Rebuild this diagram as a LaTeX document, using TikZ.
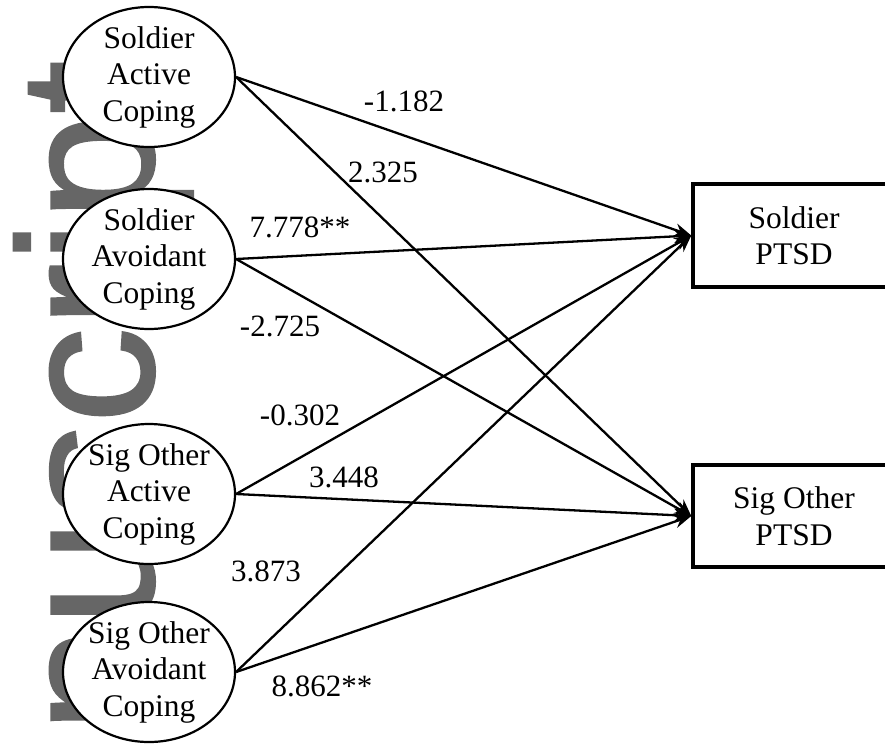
\documentclass[tikz,border=0pt]{standalone}
\usepackage{fontspec}
\setmainfont{Liberation Serif}
\newfontfamily\wmfont{Liberation Sans}[FakeBold=1.2]
\usetikzlibrary{shapes.geometric,arrows.meta}
\definecolor{wmgray}{RGB}{102,102,102}
\begin{document}
\begin{tikzpicture}[x=1pt,y=-1pt,
  ell/.style={ellipse, draw, line width=2.2pt, fill=white, minimum width=172pt, minimum height=140pt, inner sep=0pt},
  txt/.style={font=\fontsize{31.5}{36.5}\selectfont, align=center, inner sep=0pt},
  box/.style={rectangle, draw, line width=3.5pt, fill=white, minimum width=202pt, inner sep=0pt},
  lab/.style={font=\fontsize{31}{36}\selectfont, inner sep=0pt, anchor=base},
  conn/.style={line width=2.3pt, -{Stealth[length=17pt,width=13pt]}}]
\useasboundingbox (0,0) rectangle (885,745);
\clip (0,0) rectangle (885,745);
% watermark
\node[font=\wmfont\fontsize{192}{192}\selectfont, text=wmgray, rotate=90, anchor=base west, inner sep=0pt] (wm) at (153,733) {nuscript};
% latent ellipses
\node[ell] (sac) at (149,77) {};
\node[txt] (sact) at (sac) {Soldier\\Active\\Coping};
\node[ell] (sav) at (149,259) {};
\node[txt] (savt) at (sav) {Soldier\\Avoidant\\Coping};
\node[ell] (oac) at (149,494) {};
\node[txt] (oact) at (oac) {Sig Other\\Active\\Coping};
\node[ell] (oav) at (149,672) {};
\node[txt] (oavt) at (oav) {Sig Other\\Avoidant\\Coping};
% outcome boxes
\node[box, minimum height=103pt] (spt) at (794,235.5) {};
\node[txt] (sptt) at (spt) {Soldier\\PTSD};
\node[box, minimum height=102pt] (opt) at (794,516) {};
\node[txt] (optt) at (opt) {Sig Other\\PTSD};
% paths
\draw[conn] (sac.east) -- (spt.west);
\draw[conn] (sac.east) -- (opt.west);
\draw[conn] (sav.east) -- (spt.west);
\draw[conn] (sav.east) -- (opt.west);
\draw[conn] (oac.east) -- (spt.west);
\draw[conn] (oac.east) -- (opt.west);
\draw[conn] (oav.east) -- (spt.west);
\draw[conn] (oav.east) -- (opt.west);
% labels
\node[lab] (l1) at (404,111) {-1.182};
\node[lab] (l2) at (383,182) {2.325};
\node[lab] (l3) at (300,237) {7.778**};
\node[lab] (l4) at (280,336) {-2.725};
\node[lab] (l5) at (300,425) {-0.302};
\node[lab] (l6) at (344,487) {3.448};
\node[lab] (l7) at (266,581) {3.873};
\node[lab] (l8) at (322,696) {8.862**};
\end{tikzpicture}
\end{document}
